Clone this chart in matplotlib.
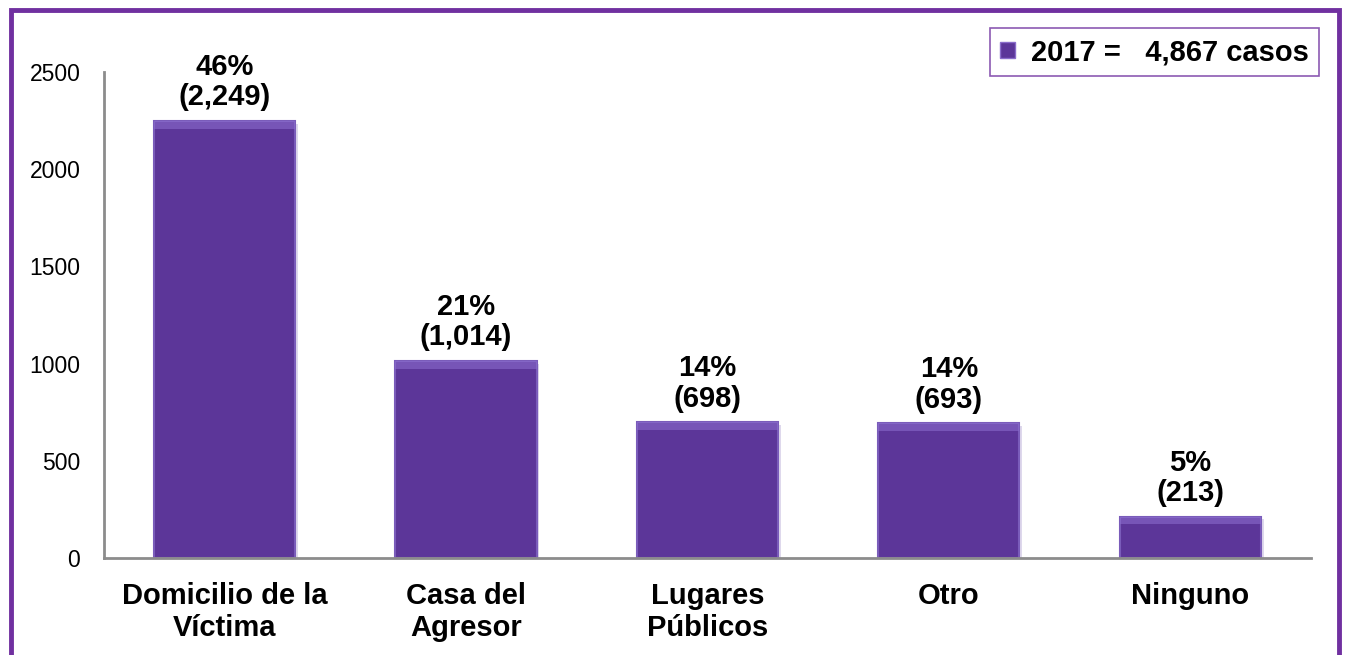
import matplotlib.pyplot as plt
import matplotlib.patches as patches
import matplotlib.patheffects as pe

plt.rcParams['font.family'] = ['Liberation Sans', 'DejaVu Sans']

# datos
categorias = ['Domicilio de la\nVíctima', 'Casa del\nAgresor', 'Lugares\nPúblicos', 'Otro', 'Ninguno']
casos = [2249, 1014, 698, 693, 213]
porcentajes = [46, 21, 14, 14, 5]
etiqueta_leyenda = '2017 =   4,867 casos'

morado = '#5c3699'
borde = '#7030a0'

fig = plt.figure(figsize=(13.45, 6.55), dpi=100)
ax = fig.add_axes([0.0773, 0.148, 0.8974, 0.742])

x = list(range(len(categorias)))
barras = ax.bar(x, casos, width=0.585, color=morado, edgecolor='#7a5cba', linewidth=1.5,
                path_effects=[pe.SimplePatchShadow(offset=(2, -2), shadow_rgbFace='#c9bfe0', alpha=0.6),
                              pe.Normal()])

# brillo superior (bisel) de cada barra
bisel = 40
ax.bar(x, [bisel] * len(casos), bottom=[v - bisel for v in casos], width=0.585,
       color='#8e6fd0', alpha=0.55, linewidth=0)

# etiquetas sobre las barras
for i, (v, p) in enumerate(zip(casos, porcentajes)):
    ax.annotate(f'{p}%\n({v:,})', (i, v), xytext=(0, 7), textcoords='offset points',
                ha='center', va='bottom', fontsize=21, fontweight='bold', linespacing=1.1)

ax.set_xlim(-0.5, len(categorias) - 0.5)
ax.set_ylim(0, 2500)
ax.set_yticks([0, 500, 1000, 1500, 2000, 2500])
ax.set_xticks(x)
ax.set_xticklabels(categorias, fontsize=21, fontweight='bold', linespacing=1.2)
ax.tick_params(axis='y', labelsize=16.5, length=0, pad=17)
ax.tick_params(axis='x', length=0, pad=17)

for s in ['top', 'right']:
    ax.spines[s].set_visible(False)
for s in ['left', 'bottom']:
    ax.spines[s].set_color('#8c8c8c')
    ax.spines[s].set_linewidth(2)

# leyenda
handle = patches.Patch(facecolor=morado, edgecolor='#8a6dcb')
leg = fig.legend([handle], [etiqueta_leyenda], loc='upper right',
                 bbox_to_anchor=(1319 / 1345, 1 - 28 / 655), borderaxespad=0,
                 prop={'size': 21, 'weight': 'bold'}, frameon=True, fancybox=False,
                 handlelength=0.5, handleheight=0.5, handletextpad=0.55,
                 borderpad=0.35)
leg.get_frame().set_edgecolor(borde)
leg.get_frame().set_linewidth(1.2)

# marco morado de la figura
marco = patches.Rectangle((11 / 1345, -0.05), 1328 / 1345, 1.05 - 9.5 / 655,
                          transform=fig.transFigure, fill=False,
                          edgecolor=borde, linewidth=3.5)
fig.patches.append(marco)

fig.savefig('out.png', dpi=100)
